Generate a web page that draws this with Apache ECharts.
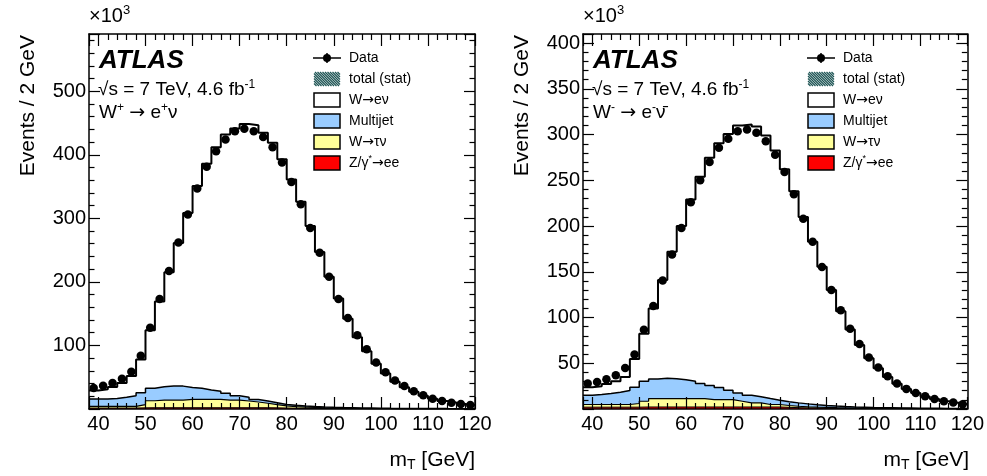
<!DOCTYPE html>
<html>
<head>
<meta charset="utf-8">
<script src="https://cdn.jsdelivr.net/npm/echarts@6/dist/echarts.min.js"></script>
<style>
  html, body { margin: 0; padding: 0; background: #fff; }
  #chart { width: 987px; height: 476px; }
</style>
</head>
<body>
<div id="chart"></div>
<script>
// m_T bins: 38..120 GeV, 2 GeV wide (41 bins), values in 10^3 events / 2 GeV
const binLow = 38
const binWidth = 2

// W+ -> e+ nu
const plusData = [33, 36.7, 41, 47.6, 58.7, 83.8, 127.8, 173, 217, 262, 306, 347, 381, 405.6, 424, 437, 441, 437, 428, 412, 388, 357, 322, 284.6, 246, 208, 173, 143, 116, 94, 73, 58, 45, 36, 28, 21.5, 16, 12.6, 10, 8, 6.3]
const plusWenu = [13.3, 15.3, 18.1, 22.6, 31, 52.3, 91.5, 134, 179, 225, 274.5, 318.5, 356, 384, 407.4, 420.5, 430.1, 431.5, 421.9, 409, 386, 355.2, 321.2, 284, 243.7, 205.3, 171.8, 140.1, 111.4, 89.6, 69.8, 55, 42, 33.2, 26.3, 20.3, 15.4, 11.9, 9.5, 7.5, 5.8]
const plusMultijet = [11.7, 11.7, 12.4, 14.4, 17, 18.7, 19.5, 21, 22, 22, 18.8, 17.3, 14.8, 12.8, 10.6, 7, 5.8, 4, 3.6, 3.2, 2, 2, 1.8, 1.6, 1.4, 1.2, 1, 0.9, 0.8, 0.7, 0.6, 0.5, 0.45, 0.4, 0.35, 0.32, 0.3, 0.27, 0.25, 0.2, 0.2]
const plusWtaunu = [2.5, 2.5, 2.5, 2.5, 2.5, 5.2, 11, 12, 12, 12, 13.2, 13.2, 13.2, 13.2, 12, 12, 10.6, 9, 7, 5, 3.5, 2.6, 2, 1.6, 1.2, 0.9, 0.7, 0.6, 0.5, 0.4, 0.3, 0.25, 0.2, 0.18, 0.16, 0.15, 0.14, 0.13, 0.12, 0.1, 0.1]
const plusZee = [1.5, 1.5, 1.5, 1.5, 1.5, 1.8, 2, 2, 2, 2, 2, 2, 2, 2, 2, 2, 2, 2, 2, 1.8, 1.5, 1.2, 1, 0.8, 0.7, 0.6, 0.5, 0.4, 0.3, 0.3, 0.3, 0.3, 0.3, 0.3, 0.2, 0.2, 0.2, 0.2, 0.2, 0.2, 0.2]

// W- -> e- nubar
const minusData = [27.8, 29.6, 32.5, 36.8, 44.9, 59.7, 86.6, 112.7, 140.5, 169, 198, 226, 250, 270, 285.6, 295.4, 303.7, 305.5, 302, 292.8, 278, 259, 234.7, 208, 182.8, 155.3, 130, 108, 87.7, 71, 56.4, 45.5, 35.7, 27.8, 22, 17.6, 14, 11, 8.5, 7, 5.2]
const minusWenu = [8.7, 9, 10.5, 12, 14.8, 30.9, 51.9, 77.1, 107.4, 138.8, 167.9, 198.7, 226.2, 249.1, 267.2, 280.3, 292.4, 296, 295.5, 287.6, 273.1, 254, 231.3, 204.4, 178.2, 151.8, 126.8, 104.3, 84.7, 68, 53.8, 43, 33.7, 26.4, 20.8, 16.5, 13, 10.2, 7.8, 6.4, 4.6]
const minusMultijet = [10.1, 10.9, 12, 13.4, 15.3, 17.8, 21.8, 21.5, 22.2, 21.8, 20.7, 18.9, 16.4, 15.3, 13.1, 10.2, 9.1, 8.3, 6.6, 6.5, 4.7, 4.2, 3.7, 3.2, 2.6, 2.1, 1.8, 1.5, 1.3, 1.1, 0.9, 0.8, 0.65, 0.5, 0.5, 0.42, 0.35, 0.28, 0.2, 0.1, 0.1]
const minusWtaunu = [2.9, 2.9, 2.9, 2.9, 2.9, 4, 6.3, 9.2, 9.2, 9.2, 9.2, 9.2, 9.2, 8.1, 8.1, 8.1, 6.3, 4.5, 4.5, 2.7, 2.7, 2, 1.5, 1.2, 1, 0.9, 0.7, 0.6, 0.5, 0.5, 0.4, 0.3, 0.25, 0.2, 0.2, 0.18, 0.15, 0.12, 0.1, 0.1, 0.1]
const minusZee = [2, 2, 2, 2, 2, 2, 2.2, 2.2, 2.2, 2.2, 2.2, 2.2, 2.2, 2.2, 2.2, 2.2, 2.2, 2.2, 2.2, 2.2, 2.2, 1.8, 1.5, 1.2, 1, 0.8, 0.7, 0.6, 0.5, 0.4, 0.4, 0.4, 0.4, 0.4, 0.3, 0.3, 0.3, 0.3, 0.3, 0.3, 0.3]

const legendNames = ['Data', 'total (stat)', 'W{arr|→}eν', 'Multijet', 'W{arr|→}τν', 'Z/γ{sup|*}{arr|→}ee']
const colors = { wenu: '#ffffff', multijet: '#99ccff', wtaunu: '#ffff99', zee: '#ff0000', hatch: '#1d5454' }
const font = '"Liberation Sans", Arial, sans-serif'

// plot frames (px)
const frames = [
  { left: 89, top: 34, width: 386, height: 375, ymax: 590, step: 100 },
  { left: 583, top: 34, width: 386, height: 375, ymax: 410, step: 50 }
]

function addUp(layers) {
  return layers[0].map((_, i) => layers.reduce((s, l) => s + l[i], 0))
}

// histogram as a step line: points at the lower edges + the last upper edge
function stepData(values) {
  const pts = values.map((v, i) => [binLow + i * binWidth, v])
  pts.push([binLow + values.length * binWidth, values[values.length - 1]])
  return pts
}

function histSeries(name, values, fill, lw, idx) {
  return {
    name: name, type: 'line', step: 'end',
    xAxisIndex: idx * 2, yAxisIndex: idx * 2,
    data: stepData(values), symbol: 'none', silent: true,
    lineStyle: { color: '#000', width: lw },
    areaStyle: { color: fill, opacity: 1 }
  }
}

function panelSeries(idx, data, wenu, multijet, wtaunu, zee) {
  const binCenters = data.map((_, i) => binLow + binWidth * (i + 0.5))
  return [
    histSeries('W→eν', addUp([zee, wtaunu, multijet, wenu]), colors.wenu, 2, idx),
    histSeries('Multijet', addUp([zee, wtaunu, multijet]), colors.multijet, 1.5, idx),
    histSeries('W→τν', addUp([zee, wtaunu]), colors.wtaunu, 1.2, idx),
    histSeries('Z/γ*→ee', zee, colors.zee, 1, idx),
    {
      name: 'Data', type: 'scatter', xAxisIndex: idx * 2, yAxisIndex: idx * 2,
      data: data.map((v, i) => [binCenters[i], v]),
      symbolSize: 8.5, itemStyle: { color: '#000', opacity: 1 }, z: 4
    }
  ]
}

const tickStyle = { color: '#000', width: 1.2 }

function xAxisFor(grid, pos) {
  return {
    type: 'value', gridIndex: grid, position: pos, min: 38, max: 120, splitNumber: 8, z: 5,
    axisLine: { onZero: false, lineStyle: { color: '#000', width: 1.5 } },
    axisTick: { inside: true, length: 12, lineStyle: tickStyle },
    minorTick: { show: true, splitNumber: 5, length: 6, lineStyle: tickStyle },
    splitLine: { show: false },
    axisLabel: {
      show: pos === 'bottom', margin: 5, color: '#000', fontSize: 20, fontFamily: font,
      formatter: v => (v % 10 === 0 ? String(v) : '')
    }
  }
}

function yAxisFor(grid, pos) {
  const f = frames[grid]
  return {
    type: 'value', gridIndex: grid, position: pos, min: 0, max: f.ymax, interval: f.step, z: 5,
    axisLine: { onZero: false, lineStyle: { color: '#000', width: 1.5 } },
    axisTick: { inside: true, length: 11, lineStyle: tickStyle },
    minorTick: { show: true, splitNumber: 5, length: 5.5, lineStyle: tickStyle },
    splitLine: { show: false },
    axisLabel: {
      show: pos === 'left', margin: 3, color: '#000', fontSize: 20, fontFamily: font,
      formatter: v => (v > 0 && v % f.step === 0 ? String(v) : '')
    }
  }
}

function txt(x, y, text, size, extra) {
  return Object.assign({
    type: 'text', x: x, y: y, silent: true,
    style: {
      text: text, fontSize: size, fontFamily: font, fill: '#000',
      align: 'left', verticalAlign: 'middle', textAlign: 'left', textVerticalAlign: 'middle',
      lineHeight: Math.round(size * 1.2),
      rich: {
        sup: { fontSize: Math.round(size * 0.65), fontFamily: font, verticalAlign: 'top', lineHeight: Math.round(size * 0.7) },
        sub: { fontSize: Math.round(size * 0.65), fontFamily: font, verticalAlign: 'bottom', lineHeight: Math.round(size * 0.7) },
        arr: { fontSize: size, fontFamily: '"DejaVu Sans", sans-serif', lineHeight: Math.round(size * 1.2) }
      }
    }
  }, extra || {})
}

function panelGraphics(idx, channel) {
  const f = frames[idx]
  const L = f.left
  const els = []
  els.push(txt(L, 16, '×10{sup|3}', 20))
  els.push(txt(L - 61, 35, 'Events / 2 GeV', 21, { rotation: Math.PI / 2 }))
  els[els.length - 1].style.align = 'right'
  els[els.length - 1].style.textAlign = 'right'
  els.push(txt(L + f.width, 460, 'm{sub|T} [GeV]', 21))
  els[els.length - 1].style.align = 'right'
  els[els.length - 1].style.textAlign = 'right'
  const atlas = txt(L + 10, 61, 'ATLAS', 26)
  atlas.style.fontWeight = 'bold'
  atlas.style.fontStyle = 'italic'
  els.push(atlas)
  els.push(txt(L + 9, 90, '√s = 7 TeV, 4.6 fb{sup|-1}', 19))
  els.push(txt(L + 10, 113, channel, 19))

  // legend
  const bx = L + 225
  const bw = 26
  const bh = 14
  const rows = [58, 79, 100, 121, 142, 163]
  const fills = [null, null, colors.wenu, colors.multijet, colors.wtaunu, colors.zee]
  rows.forEach((y, i) => {
    els.push(txt(bx + 35, y, legendNames[i], 14))
    if (i === 0) {
      els.push({ type: 'line', silent: true, shape: { x1: bx - 1, y1: y, x2: bx + bw + 1, y2: y }, style: { stroke: '#000', lineWidth: 1.5 } })
      els.push({ type: 'line', silent: true, shape: { x1: bx + bw / 2, y1: y - 5, x2: bx + bw / 2, y2: y + 5 }, style: { stroke: '#000', lineWidth: 1.5 } })
      els.push({ type: 'circle', silent: true, shape: { cx: bx + bw / 2, cy: y, r: 4 }, style: { fill: '#000' } })
    } else if (i === 1) {
      const top = y - bh / 2
      for (let c = -bh; c < bw; c += 2.5) {
        let x1 = c, y1 = 0, x2 = c + bh, y2 = bh
        if (x1 < 0) { y1 = -x1; x1 = 0 }
        if (x2 > bw) { y2 = bh - (x2 - bw); x2 = bw }
        els.push({ type: 'line', silent: true, shape: { x1: bx + x1, y1: top + y1, x2: bx + x2, y2: top + y2 }, style: { stroke: colors.hatch, lineWidth: 1.2 } })
      }
    } else {
      els.push({ type: 'rect', silent: true, shape: { x: bx, y: y - bh / 2, width: bw, height: bh }, style: { fill: fills[i], stroke: '#000', lineWidth: 1.5 } })
    }
  })
  return els
}

const option = {
  animation: false,
  backgroundColor: '#fff',
  grid: frames.map(f => ({ left: f.left, top: f.top, width: f.width, height: f.height, containLabel: false })),
  xAxis: [xAxisFor(0, 'bottom'), xAxisFor(0, 'top'), xAxisFor(1, 'bottom'), xAxisFor(1, 'top')],
  yAxis: [yAxisFor(0, 'left'), yAxisFor(0, 'right'), yAxisFor(1, 'left'), yAxisFor(1, 'right')],
  series: [].concat(
    panelSeries(0, plusData, plusWenu, plusMultijet, plusWtaunu, plusZee),
    panelSeries(1, minusData, minusWenu, minusMultijet, minusWtaunu, minusZee)
  ),
  graphic: [].concat(
    panelGraphics(0, 'W{sup|+} {arr|→} e{sup|+}ν'),
    panelGraphics(1, 'W{sup|-} {arr|→} e{sup|-}ν̄')
  )
}

const chart = echarts.init(document.getElementById('chart'))
chart.setOption(option)
</script>
</body>
</html>
